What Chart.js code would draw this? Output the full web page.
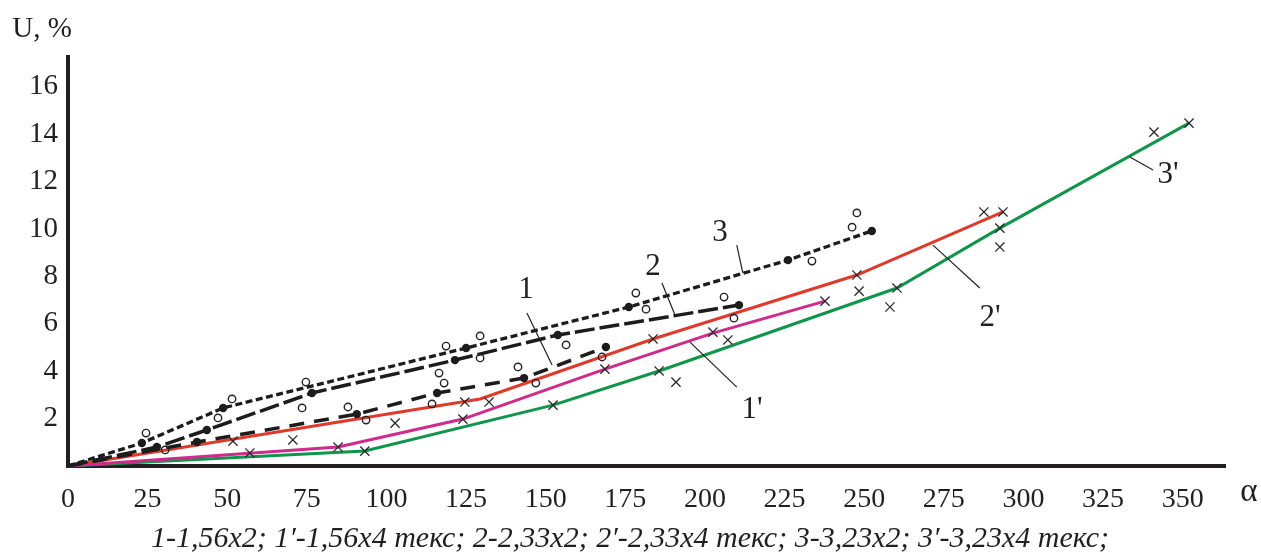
<!DOCTYPE html>
<html>
<head>
<meta charset="utf-8">
<script src="https://cdn.jsdelivr.net/npm/chart.js@4.4.1/dist/chart.umd.min.js"></script>
<style>
  html, body { margin: 0; padding: 0; background: #ffffff; }
  canvas { display: block; }
</style>
</head>
<body>
<canvas id="chart" width="1261" height="560"></canvas>
<script>
// Twist α against shrinkage U, %; curves 1-3 are x2 plies, 1'-3' are x4 plies
const alpha1 = [0, 40.5, 90.7, 115.9, 143.2, 168.9];
const u1     = [0, 1.01, 2.19, 3.08, 3.71, 5.02];
const alpha2 = [0, 27.9, 43.6, 76.6, 121.5, 153.8, 210.7];
const u2     = [0, 0.80, 1.52, 3.08, 4.47, 5.53, 6.79];
const alpha3 = [0, 23.2, 48.7, 125.0, 176.1, 226.1, 252.4];
const u3     = [0, 0.97, 2.45, 4.98, 6.71, 8.69, 9.92];
const alpha1p = [0, 84.8, 124.0, 168.6, 202.5, 237.7];
const u1p     = [0, 0.80, 1.98, 4.09, 5.61, 6.96];
const alpha2p = [0, 129.4, 183.7, 247.7, 293.6];
const u2p     = [0, 2.83, 5.36, 8.06, 10.72];
const alpha3p = [0, 93.2, 152.3, 185.6, 260.3, 292.6, 352.0];
const u3p     = [0, 0.63, 2.57, 4.01, 7.51, 10.04, 14.47];

// measured points: crosses for the x4 yarns, rings for the x2 yarns
const crossAlpha = [51.8, 57.1, 70.6, 84.8, 93.2, 102.7, 124.0, 124.6, 132.2, 152.3, 168.6, 183.7, 185.6, 190.9,
                    202.5, 207.2, 237.7, 247.7, 248.4, 258.1, 260.3, 287.6, 293.6, 292.6, 292.6, 341.0, 352.0];
const crossU     = [1.05, 0.55, 1.10, 0.80, 0.63, 1.81, 1.98, 2.70, 2.70, 2.57, 4.09, 5.36, 4.01, 3.54,
                    5.65, 5.32, 6.96, 8.06, 7.38, 6.71, 7.51, 10.72, 10.72, 10.04, 9.24, 14.09, 14.47];
const ringAlpha  = [24.5, 30.5, 47.1, 51.5, 73.5, 74.7, 87.9, 93.6, 114.3, 116.5, 118.1, 118.7, 129.4,
                    129.4, 141.3, 146.9, 156.4, 167.7, 178.3, 181.5, 206.0, 209.1, 233.6, 246.2, 247.7];
const ringU      = [1.39, 0.68, 2.03, 2.83, 2.45, 3.54, 2.49, 1.94, 2.62, 3.92, 3.50, 5.06, 5.49,
                    4.56, 4.18, 3.50, 5.11, 4.60, 7.30, 6.62, 7.13, 6.24, 8.65, 10.08, 10.68];

const xTicks = [0, 25, 50, 75, 100, 125, 150, 175, 200, 225, 250, 275, 300, 325, 350];
const yTicks = [2, 4, 6, 8, 10, 12, 14, 16];

const curveNames = ['1', '2', '3', "1'", "2'", "3'"];
const captionText = '1-1,56x2; 1\u2032-1,56x4 текс; 2-2,33x2; 2\u2032-2,33x4 текс; 3-3,23x2; 3\u2032-3,23x4 текс;';

const SERIF = "'Liberation Serif', 'Times New Roman', serif";
const INK = '#231f20';

const pts = (xs, ys) => xs.map((v, i) => ({ x: v, y: ys[i] }));

// curve labels with their leader strokes, in axis units (α, U)
const curveNotes = [
  { text: curveNames[0], at: [143.8, 7.43], from: [144.1, 6.46], to: [152.0, 4.26] },
  { text: curveNames[1], at: [183.7, 8.40], from: [186.5, 7.72], to: [190.6, 6.37] },
  { text: curveNames[2], at: [204.7, 9.83], from: [210.0, 9.32], to: [211.9, 8.14] },
  { text: curveNames[3], at: [214.8, 2.36], from: [195.3, 5.23], to: [210.0, 3.33] },
  { text: curveNames[4], at: [289.5, 6.24], from: [271.6, 9.32], to: [286.3, 7.51] },
  { text: curveNames[5], at: [345.4, 12.28], from: [333.4, 13.04], to: [340.7, 12.49] }
];

const dotRadius = ctx => (ctx.dataIndex === 0 ? 0 : 4.2);

const decor = {
  id: 'decor',
  afterDatasetsDraw(chart) {
    const { ctx, scales: { x, y } } = chart;
    ctx.save();
    ctx.strokeStyle = INK;
    ctx.fillStyle = INK;
    ctx.lineWidth = 1.2;
    ctx.font = `31px ${SERIF}`;
    ctx.textAlign = 'center';
    ctx.textBaseline = 'middle';
    curveNotes.forEach(n => {
      ctx.beginPath();
      ctx.moveTo(x.getPixelForValue(n.from[0]), y.getPixelForValue(n.from[1]));
      ctx.lineTo(x.getPixelForValue(n.to[0]), y.getPixelForValue(n.to[1]));
      ctx.stroke();
      ctx.fillText(n.text, x.getPixelForValue(n.at[0]), y.getPixelForValue(n.at[1]));
    });
    ctx.restore();
  },
  afterDraw(chart) {
    const { ctx, chartArea } = chart;
    ctx.save();
    ctx.fillStyle = INK;
    ctx.textBaseline = 'alphabetic';
    // axis names
    ctx.font = `29px ${SERIF}`;
    ctx.textAlign = 'center';
    ctx.fillText('U, %', chartArea.left - 26, chartArea.top - 20);
    ctx.font = `33px ${SERIF}`;
    ctx.fillText('α', chartArea.right + 24, chartArea.bottom + 35);
    // caption
    ctx.font = `italic 30px ${SERIF}`;
    ctx.fillText(captionText, 630, 547);
    ctx.restore();
  }
};

const lineSet = (label, xs, ys, color, width, dash, withDots, order) => ({
  label,
  data: pts(xs, ys),
  showLine: true,
  borderColor: color,
  backgroundColor: color,
  borderWidth: width,
  borderDash: dash,
  pointRadius: withDots ? dotRadius : 0,
  pointBorderWidth: 0,
  pointBackgroundColor: color,
  fill: false,
  tension: 0,
  clip: false,
  order
});

new Chart(document.getElementById('chart'), {
  type: 'scatter',
  data: {
    datasets: [
      {
        label: 'crosses',
        data: pts(crossAlpha, crossU),
        pointStyle: 'crossRot',
        pointRadius: 6.5,
        pointBorderWidth: 1.3,
        pointBorderColor: '#2b2b2b',
        showLine: false,
        clip: false,
        order: 1
      },
      {
        label: 'rings',
        data: pts(ringAlpha, ringU),
        pointStyle: 'circle',
        pointRadius: 3.7,
        pointBorderWidth: 1.4,
        pointBorderColor: '#222222',
        pointBackgroundColor: 'rgba(255,255,255,0)',
        showLine: false,
        clip: false,
        order: 1
      },
      lineSet('1', alpha1, u1, '#1c1c1c', 3.5, [15, 10], true, 2),
      lineSet('2', alpha2, u2, '#1c1c1c', 3.5, [20, 5], true, 2),
      lineSet('3', alpha3, u3, '#1c1c1c', 3.3, [7, 3.5], true, 2),
      lineSet("1'", alpha1p, u1p, '#cf2a8c', 3, [], false, 3),
      lineSet("2'", alpha2p, u2p, '#df3a2c', 3, [], false, 3),
      lineSet("3'", alpha3p, u3p, '#10964a', 3, [], false, 3)
    ]
  },
  options: {
    responsive: false,
    animation: false,
    devicePixelRatio: 1,
    events: [],
    layout: { padding: { left: 0, top: 57, right: 36, bottom: 0 } },
    plugins: { legend: { display: false }, tooltip: { enabled: false } },
    scales: {
      x: {
        type: 'linear',
        min: 0,
        max: 363.3,
        afterBuildTicks: s => { s.ticks = xTicks.map(v => ({ value: v })); },
        afterFit: s => { s.height = 94; },
        grid: { display: false, drawTicks: false },
        border: { display: true, color: INK, width: 4 },
        ticks: { padding: 17, color: INK, autoSkip: false, maxRotation: 0, font: { family: SERIF, size: 28 } }
      },
      y: {
        type: 'linear',
        min: 0,
        max: 17.26,
        afterBuildTicks: s => { s.ticks = yTicks.map(v => ({ value: v })); },
        afterFit: s => { s.width = 68; },
        grid: { display: false, drawTicks: false },
        border: { display: true, color: INK, width: 4 },
        ticks: { padding: 10, color: INK, autoSkip: false, font: { family: SERIF, size: 29 } }
      }
    }
  },
  plugins: [decor]
});
</script>
</body>
</html>
